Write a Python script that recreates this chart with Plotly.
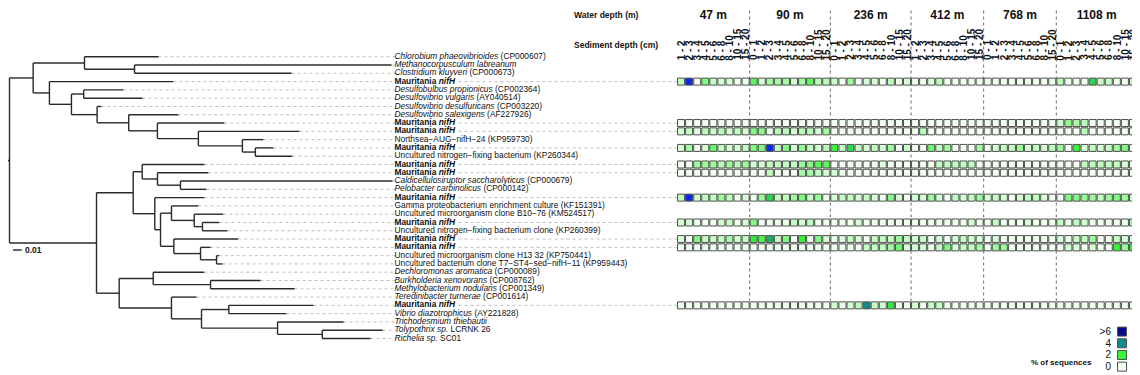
import re
import plotly.graph_objects as go

# ---------------- DATA ----------------
# Phylogenetic tree (Newick, branch lengths in substitutions/site); tips t1..t35 in plotted order
newick = ("(((t1:0.0851,(t2:0.2954,t3:0.1805):0.0575):0.0590,(t4:0.1425,((t5:0.0456,t6:0.0675):0.0141,"
          "(t7:0.0049,(t8:0.0571,(t9:0.0770,(t10:0.1161,(t11:0.0241,(t12:0.0207,t13:0.0425):0.0149):0.0506)"
          ":0.0471):0.0330):0.0363):0.0295):0.0253):0.0187):0.0272,(((t14:0.0716,(t15:0.0586,(t16:0.2437,"
          "t17:0.0299):0.0264):0.0176):0.0103,(t18:0.0571,((t19:0.0310,(t20:0.0333,(t21:0.0192,t22:0.0287)"
          ":0.0095):0.0261):0.0126,(t23:0.0740,(t24:0.0115,(t25:0.0026,t26:0.0069):0.0184):0.0307):0.0153)"
          ":0.0066):0.0248):0.0422,((t27:0.0586,(t28:0.0575,t29:0.0966):0.0659):0.0391,(t30:0.0287,((t31:0.0974,"
          "t32:0.0663):0.0314,(t33:0.0759,(t34:0.0693,t35:0.0555):0.0514):0.0874):0.0345):0.0601):0.0261)"
          ":0.1000):0.0060;")

MAUR = "<b>Mauritania <i>nifH</i></b>"
leaf_labels = [
    "<i>Chlorobium phaeovibrioides</i> (CP000607)",
    "<i>Methanocorpusculum labreanum</i>",
    "<i>Clostridium kluyveri</i> (CP000673)",
    MAUR,
    "<i>Desulfobulbus propionicus</i> (CP002364)",
    "<i>Desulfovibrio vulgaris</i> (AY040514)",
    "<i>Desulfovibrio desulfuricans</i> (CP003220)",
    "<i>Desulfovibrio salexigens</i> (AF227926)",
    MAUR,
    MAUR,
    "Northsea−AUG−nifH−24 (KP959730)",
    MAUR,
    "Uncultured nitrogen−fixing bacterium (KP260344)",
    MAUR,
    MAUR,
    "<i>Caldicellulosiruptor saccharolyticus</i> (CP000679)",
    "<i>Pelobacter carbinolicus</i> (CP000142)",
    MAUR,
    "Gamma proteobacterium enrichment culture (KF151391)",
    "Uncultured microorganism clone B10−76 (KM524517)",
    MAUR,
    "Uncultured nitrogen−fixing bacterium clone (KP260399)",
    MAUR,
    MAUR,
    "Uncultured microorganism clone H13 32 (KP750441)",
    "Uncultured bacterium clone T7−ST4−sed−nifH−11 (KP959443)",
    "<i>Dechloromonas aromatica</i> (CP000089)",
    "<i>Burkholderia xenovorans</i> (CP008762)",
    "<i>Methylobacterium nodulans</i> (CP001349)",
    "<i>Teredinibacter turnerae</i> (CP001614)",
    MAUR,
    "<i>Vibrio diazotrophicus</i> (AY221828)",
    "<i>Trichodesmium thiebautii</i>",
    "<i>Tolypothrix sp.</i> LCRNK 26",
    "<i>Richelia sp.</i> SC01",
]

water_depths = ["47 m", "90 m", "236 m", "412 m", "768 m", "1108 m"]
sediment_depths = [
    ["1 - 2", "2 - 3", "3 - 4", "4 - 5", "5 - 6", "6 - 8", "8 - 10", "10 - 15", "15 - 20"],
    ["0 - 1", "1 - 2", "2 - 3", "3 - 4", "4 - 5", "5 - 6", "6 - 8", "8 - 10", "10 - 15", "15 - 20"],
    ["0 - 1", "1 - 2", "2 - 3", "3 - 4", "4 - 5", "5 - 6", "6 - 8", "8 - 10", "10 - 15", "15 - 20"],
    ["1 - 2", "2 - 3", "3 - 4", "4 - 5", "5 - 6", "6 - 8", "8 - 10", "10 - 15", "15 - 20"],
    ["0 - 1", "1 - 2", "2 - 3", "3 - 4", "4 - 5", "5 - 6", "6 - 8", "8 - 10", "15 - 20"],
    ["0 - 1", "1 - 2", "2 - 3", "3 - 4", "4 - 5", "5 - 6", "6 - 8", "8 - 10", "10 - 15", "15 - 20"],
]

# % of sequences, one row per Mauritania nifH cluster (top to bottom), grouped by water depth
abundance = [
    [[0.5, 8, 0, 1.2, 0.5, 0.3, 0.3, 0, 0], [1.6, 0.3, 0.8, 0.8, 0.8, 0.3, 0.8, 1.6, 0.6, 0.6],
     [0.4, 0, 0.9, 0, 0.3, 0.3, 0, 0.6, 0, 0.3], [0, 0, 0.2, 0.6, 0, 0, 0, 0, 0],
     [0, 0, 0, 0, 0, 0, 0, 0, 0.1], [0.6, 0, 0, 0, 2.6, 0.4, 0.5, 0, 0, 0.6]],
    [[0, 0, 0, 0, 0, 0, 0, 0, 0], [0, 0, 0, 0, 0, 0, 0, 0, 0, 0],
     [0, 0, 0, 0, 0, 0, 0, 0, 0, 0], [0, 0, 0, 0, 0, 0, 0, 0, 0],
     [0, 0, 0, 0, 0, 0, 0, 0, 0], [0.4, 1.0, 0.8, 0.6, 0, 0, 0, 0, 0, 0]],
    [[0.3, 0.5, 0.2, 0.6, 0.4, 0.6, 0.3, 0.5, 0.3], [1.2, 1.1, 0, 0.6, 0.6, 0.3, 0.6, 0.6, 0.3, 0.8],
     [0, 0, 0, 0, 0, 0, 0, 0, 0, 0], [0, 0.6, 0, 0, 0, 0, 0, 0, 0],
     [0, 0, 0, 0, 0, 0, 0, 0, 0], [0, 0, 0, 0.6, 0, 0, 0, 0, 0, 0]],
    [[0.3, 0.8, 0, 0.3, 1.5, 0.5, 0.3, 0.3, 0.5], [1.2, 1.2, 8, 0.5, 1.2, 0.3, 1.0, 0.5, 0.3, 0.6],
     [2.0, 0.5, 2.5, 0.5, 0.3, 0.5, 0.3, 0.9, 0, 0.4], [0, 0, 1.4, 0.5, 0.9, 0, 0, 0, 0.8],
     [0, 0.3, 0.5, 0.5, 0.9, 0.3, 0.5, 0.3, 0.5], [0.9, 0, 2.0, 0.3, 0.5, 0.3, 0.5, 0.9, 1.2, 0]],
    [[0, 0, 0.9, 0.9, 0.9, 0.6, 0.9, 0.6, 0.9], [0.3, 0.3, 0.5, 0.5, 0.5, 0.5, 0.9, 1.2, 1.6, 1.6],
     [0, 0, 0, 0, 0, 0, 0.2, 0, 0, 0], [0, 0, 0, 0.5, 0.5, 0.5, 0.5, 0.5, 0],
     [0, 0, 0, 0, 0, 0, 0, 0, 0], [0, 0, 0, 0.5, 0.5, 0.5, 0.5, 0.5, 0.3, 0]],
    [[0, 0, 0, 0, 0, 0, 0, 0, 0], [0, 0, 0.5, 0, 0, 0, 0.8, 0.8, 0.5, 0.3],
     [0.3, 0, 0, 0, 0, 0, 0, 0, 0, 0], [0, 0, 0, 0, 0, 0, 0, 0, 0],
     [0, 0, 0, 0, 0, 0, 0, 0, 0], [0, 0, 0, 0, 0, 0, 0, 0, 0, 0]],
    [[0.5, 8, 0.3, 0.5, 0.5, 0.9, 0.5, 0, 0.3], [0, 0.9, 2.6, 0.5, 0.5, 0.9, 1.2, 0.5, 0.9, 0],
     [0.3, 0.5, 0.5, 0.3, 0.5, 0.3, 0, 1.2, 0.3, 0], [0.3, 0.3, 0.9, 0.3, 0, 0.5, 0.3, 0.5, 0.9],
     [0.3, 0.5, 0.3, 0, 0.3, 0.5, 0.5, 0.3, 0], [0, 1.2, 1.2, 0.9, 0.9, 0.5, 0.9, 1.2, 0.9, 0.5]],
    [[0.3, 0.3, 0, 0, 0, 0.3, 0.5, 0, 0.3], [1.2, 0, 0, 0, 0, 0.5, 0.3, 0.5, 0, 0],
     [0, 0, 0, 0.3, 0, 0, 0, 0, 0, 0], [0, 0, 0, 0, 0, 0, 0, 0.3, 0],
     [0, 0.5, 0, 0, 0, 0.3, 0, 0, 0], [0.5, 0, 0.5, 0.3, 0, 0, 0, 0, 0, 0.9]],
    [[0.3, 0, 1.2, 0.5, 0.4, 0.5, 0.8, 0.3, 0.5], [2.2, 1.8, 3.4, 0.5, 1.2, 0, 2.0, 0, 1.2, 0.3],
     [0, 0.3, 0.5, 0.3, 0, 0.5, 0.5, 0.5, 0.9, 0.5], [0.3, 0.5, 0, 0.3, 0, 0.3, 0.5, 0.3, 0.3],
     [0, 0.3, 0, 0, 0, 0, 0, 0, 0], [0.3, 0, 0.5, 0.5, 0.9, 0, 0, 0.5, 0.3, 0.3]],
    [[0, 0, 0, 0, 0, 0, 0, 0, 0], [0, 0, 0, 0, 0, 0, 0, 0, 0, 0],
     [0, 0, 0, 0, 0.5, 0.5, 0.5, 0.9, 1.4, 0.3], [0.3, 0.3, 0, 0.5, 1.2, 0.3, 0.5, 0.5, 0.8],
     [0, 0.9, 0.9, 0, 0, 0, 0, 0, 0], [0, 0.3, 0.3, 0, 0.3, 0, 0, 2.0, 0.9, 2.2]],
    [[0, 0, 0, 0, 0, 0, 0, 0, 0], [0, 0, 0, 0, 0, 0, 0, 0, 0, 0],
     [0.3, 0, 0.3, 0.6, 4, 0.5, 0.3, 2.2, 0, 0], [0.3, 0, 0.5, 0.5, 0, 0, 0, 0, 0],
     [0, 0, 0, 0, 0, 0, 0, 0, 0], [0, 0, 0, 0, 0, 0, 0, 0, 0, 0]],
]

legend_values = [0, 2, 4, 6]
legend_labels = ["0", "2", "4", ">6"]
scale_bar_length = 0.01

# ---------------- STYLE / LAYOUT CONSTANTS ----------------
PAGE_OFF = 8                      # default body margin of the html page
W, H = 1140 - PAGE_OFF, 375 - PAGE_OFF
FONT = "Liberation Sans, Arial, Helvetica, sans-serif"
PX_PER_UNIT = 870.0               # tree: pixels per substitution/site
ROOT_PX = 9.5                     # page pixel of root node
HM_LEFT_PX, HM_RIGHT_PX = 677.0, 1137.0
LEAF_TOP_PX, LEAF_PITCH = 55.0, 8.333
SED_LABEL_BOTTOM_PX, SED_LABEL_BOX = 58.5, 34
COLORSCALE = [[0.0, "#f0fff0"], [0.25, "#38f538"], [0.5, "#158a8a"],
              [0.75, "#0b0b86"], [1.0, "#0a28ee"]]


def fx(px):   # page px -> paper x
    return (px - PAGE_OFF) / W


def fy(py):   # page px -> paper y
    return 1 - (py - PAGE_OFF) / H


# ---------------- TREE ----------------
def parse_newick(s):
    s = re.sub(r"\s+", "", s).rstrip(";")
    pos = 0

    def node():
        nonlocal pos
        children = []
        if s[pos] == "(":
            pos += 1
            while True:
                children.append(node())
                if s[pos] == ",":
                    pos += 1
                    continue
                if s[pos] == ")":
                    pos += 1
                    break
        m = re.match(r"[^:,();]*", s[pos:])
        name = m.group(0)
        pos += m.end()
        length = 0.0
        if pos < len(s) and s[pos] == ":":
            pos += 1
            m = re.match(r"[0-9.eE+-]+", s[pos:])
            length = float(m.group(0))
            pos += m.end()
        return {"name": name, "len": length, "children": children}

    return node()


root = parse_newick(newick)
tips = []


def place(n, x):
    n["x"] = x
    if not n["children"]:
        n["y"] = float(len(tips))
        tips.append(n)
    else:
        for c in n["children"]:
            place(c, x + c["len"])
        n["y"] = (n["children"][0]["y"] + n["children"][-1]["y"]) / 2.0


place(root, 0.0)

bx, by = [], []


def segs(n):
    for c in n["children"]:
        bx.extend([n["x"], c["x"], None])
        by.extend([c["y"], c["y"], None])
        segs(c)
    if n["children"]:
        bx.extend([n["x"], n["x"], None])
        by.extend([n["children"][0]["y"], n["children"][-1]["y"], None])


segs(root)
bx.extend([-root["len"], 0.0, None])
by.extend([root["y"], root["y"], None])

tree_left = -(ROOT_PX - PAGE_OFF) / PX_PER_UNIT
tree_range = [tree_left, tree_left + (HM_LEFT_PX - PAGE_OFF) / PX_PER_UNIT]
max_tip = max(t["x"] for t in tips)
label_x = max_tip + 2.0 / PX_PER_UNIT

# leaders tip -> label
lx, ly = [], []
for t in tips:
    lx.extend([t["x"], label_x + 2.0 / PX_PER_UNIT, None])
    ly.extend([t["y"], t["y"], None])

maur_idx = [i for i, lab in enumerate(leaf_labels) if lab == MAUR]
mx, my = [], []
for i in maur_idx:
    mx.extend([label_x + 64.0 / PX_PER_UNIT, tree_range[1], None])
    my.extend([i, i, None])

# ---------------- HEATMAP ----------------
group_sizes = [len(g) for g in sediment_depths]
col_labels = [lab for g in sediment_depths for lab in g]
ncol = len(col_labels)
hx, hy, hz = [], [], []
for r, row in zip(maur_idx, abundance):
    flat = [v for g in row for v in g]
    for c, v in enumerate(flat):
        hx.append(c)
        hy.append(r)
        hz.append(v)

bounds, centers = [], []
acc = 0
for gsize in group_sizes:
    centers.append(acc + (gsize - 1) / 2.0)
    acc += gsize
    bounds.append(acc - 0.5)
bounds = bounds[:-1]

yr_top = -(LEAF_TOP_PX - PAGE_OFF) / LEAF_PITCH
yr_bot = yr_top + H / LEAF_PITCH

fig = go.Figure()
fig.add_trace(go.Scatter(x=lx, y=ly, mode="lines", xaxis="x", yaxis="y", hoverinfo="skip",
                         line=dict(color="#b0b0b0", width=0.8, dash="dot"), showlegend=False))
fig.add_trace(go.Scatter(x=mx, y=my, mode="lines", xaxis="x", yaxis="y", hoverinfo="skip",
                         line=dict(color="#b0b0b0", width=0.8, dash="dot"), showlegend=False))
fig.add_trace(go.Scatter(x=bx, y=by, mode="lines", xaxis="x", yaxis="y", hoverinfo="skip",
                         line=dict(color="#2a2a2a", width=1.4), showlegend=False))
fig.add_trace(go.Scatter(x=[label_x] * len(tips), y=[t["y"] for t in tips], mode="text",
                         text=leaf_labels, textposition="middle right", xaxis="x", yaxis="y",
                         textfont=dict(family=FONT, size=8.4, color="#111"), hoverinfo="skip",
                         showlegend=False))
# scale bar
sb_x0 = (13 - ROOT_PX) / PX_PER_UNIT
sb_y = (249.3 - LEAF_TOP_PX) / LEAF_PITCH
fig.add_trace(go.Scatter(x=[sb_x0, sb_x0 + scale_bar_length], y=[sb_y, sb_y], mode="lines",
                         line=dict(color="#222", width=1.4), xaxis="x", yaxis="y",
                         hoverinfo="skip", showlegend=False))
fig.add_annotation(x=sb_x0 + scale_bar_length + 1.5 / PX_PER_UNIT, y=sb_y, xref="x", yref="y",
                   text="<b>0.01</b>", showarrow=False, xanchor="left", yanchor="middle",
                   font=dict(family=FONT, size=8.5, color="#111"))

# heat cells
fig.add_trace(go.Scatter(x=hx, y=hy, mode="markers", xaxis="x2", yaxis="y", hoverinfo="skip",
                         marker=dict(symbol="square", size=7, color=hz, colorscale=COLORSCALE,
                                     cmin=0, cmax=8, line=dict(color="#505050", width=1)),
                         showlegend=False))
fig.add_trace(go.Scatter(x=centers, y=[0] * len(centers), mode="markers", xaxis="x3", yaxis="y",
                         marker=dict(size=1, opacity=0), hoverinfo="skip", showlegend=False))

# sediment depth labels: fixed-width left-aligned boxes rotated about their centre,
# so every label starts at the same baseline (reads bottom to top)
for c, lab in enumerate(col_labels):
    fig.add_annotation(x=c, y=fy(SED_LABEL_BOTTOM_PX - SED_LABEL_BOX / 2.0), xref="x2", yref="paper",
                       text="<b>%s</b>" % lab, textangle=-90, showarrow=False,
                       width=SED_LABEL_BOX, height=11, align="left", valign="middle",
                       xanchor="center", yanchor="middle", borderpad=0, borderwidth=0,
                       font=dict(family=FONT, size=10, color="#111"))

# group separators
last_row = maur_idx[-1]
for b in bounds:
    fig.add_shape(type="line", xref="x2", yref="y", x0=b, x1=b,
                  y0=yr_top + 0.5 / LEAF_PITCH, y1=last_row - 0.5,
                  line=dict(color="#6a6a6a", width=1, dash="dot"), layer="below")

# legend
fig.add_trace(go.Scatter(x=[0] * len(legend_values), y=list(range(len(legend_values))),
                         mode="markers", xaxis="x4", yaxis="y4", hoverinfo="skip",
                         marker=dict(symbol="square", size=9, color=legend_values,
                                     colorscale=COLORSCALE, cmin=0, cmax=8,
                                     line=dict(color="#505050", width=1)),
                         showlegend=False))

fig.add_annotation(x=fx(572), y=fy(13), xref="paper", yref="paper", text="<b>Water depth (m)</b>",
                   showarrow=False, xanchor="left", yanchor="middle",
                   font=dict(family=FONT, size=8.5, color="#111"))
fig.add_annotation(x=fx(572), y=fy(43), xref="paper", yref="paper", text="<b>Sediment depth (cm)</b>",
                   showarrow=False, xanchor="left", yanchor="middle",
                   font=dict(family=FONT, size=8.5, color="#111"))
fig.add_annotation(x=fx(1094), y=fy(362), xref="paper", yref="paper", text="<b>% of sequences</b>",
                   showarrow=False, xanchor="right", yanchor="middle",
                   font=dict(family=FONT, size=8, color="#111"))

hidden = dict(visible=False, showgrid=False, zeroline=False)
fig.update_layout(
    width=W, height=H, margin=dict(l=0, r=0, t=0, b=0),
    paper_bgcolor="white", plot_bgcolor="white", showlegend=False,
    xaxis=dict(domain=[0, fx(HM_LEFT_PX)], range=tree_range, **hidden),
    yaxis=dict(domain=[0, 1], range=[yr_bot, yr_top], **hidden),
    xaxis2=dict(domain=[fx(HM_LEFT_PX), fx(HM_RIGHT_PX)], range=[-0.5, ncol - 0.5],
                anchor="free", position=fy(66), side="top", showgrid=False, zeroline=False,
                showline=False, ticks="", showticklabels=False),
    xaxis3=dict(overlaying="x2", range=[-0.5, ncol - 0.5], anchor="free", position=fy(19),
                side="top", showgrid=False, zeroline=False, showline=False, ticks="",
                tickmode="array", tickvals=centers, ticktext=water_depths,
                tickfont=dict(family=FONT, size=12, color="#111", weight="bold")),
    xaxis4=dict(domain=[fx(1112), fx(1132)], range=[-0.5, 0.5], anchor="y4", **hidden),
    yaxis4=dict(domain=[fy(372.5), fy(325.5)], range=[-0.5, len(legend_values) - 0.5],
                anchor="x4", showgrid=False, zeroline=False, showline=False, ticks="",
                tickmode="array", tickvals=list(range(len(legend_values))), ticktext=legend_labels,
                tickfont=dict(family=FONT, size=10, color="#111")),
)

fig.write_html("out.html")
